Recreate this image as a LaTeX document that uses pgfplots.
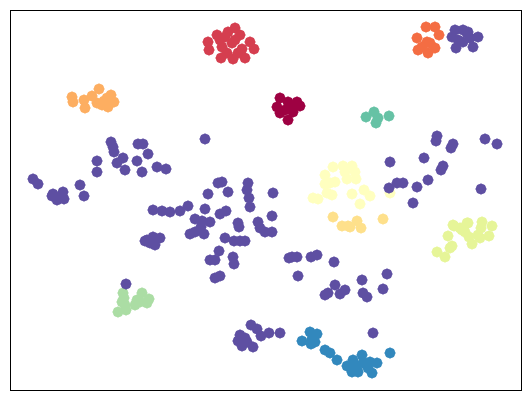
\documentclass[border=0pt]{standalone}
\usepackage{pgfplots}
\pgfplotsset{compat=1.18}

% Spectral colormap entries
\definecolor{sp1}{HTML}{9E0142}
\definecolor{sp2}{HTML}{D53E4F}
\definecolor{sp3}{HTML}{F46D43}
\definecolor{sp4}{HTML}{FDAE61}
\definecolor{sp5}{HTML}{FEE08B}
\definecolor{sp6}{HTML}{FFFFBF}
\definecolor{sp7}{HTML}{E6F598}
\definecolor{sp8}{HTML}{ABDDA4}
\definecolor{sp9}{HTML}{66C2A5}
\definecolor{sp10}{HTML}{3288BD}
\definecolor{sp11}{HTML}{5E4FA2}

\pgfplotsset{pt/.style={only marks, mark=*, mark size=5.3pt, mark options={draw=#1, fill=#1}}}

\begin{document}
\begin{tikzpicture}
\path[use as bounding box] (-10pt,-11pt) rectangle (521pt,390pt);
\begin{axis}[
    at={(0,0)}, anchor=south west,
    scale only axis,
    width=511pt, height=380pt,
    xmin=10, xmax=521, ymin=10, ymax=390,
    y dir=reverse,
    xtick=\empty, ytick=\empty,
    axis line style={black, line width=0.9pt},
]
% dark red
\addplot[pt=sp1] coordinates {
(280,98) (277,107) (288,102) (297,102) (300,106) (285,110) (288,120) (293,112) (280,113) (292,106)
};
% red
\addplot[pt=sp2] coordinates {
(208,42) (209,50) (220,40) (228,32) (235,28) (240,35) (222,47) (232,43) (235,40) (250,42)
(254,49) (242,49) (221,58) (233,59) (245,58) (227,53) (238,53) (217,35) (225,37)
};
% orange-red
\addplot[pt=sp3] coordinates {
(426,27) (435,27) (439,35) (417,38) (418,50) (427,42) (430,43) (435,48) (428,53) (422,47)
};
% orange
\addplot[pt=sp4] coordinates {
(72,97) (73,102) (84,100) (85,108) (92,96) (99,89) (97,103) (102,105) (108,107) (111,95) (114,102) (107,98) (104,101)
};
% pale yellow
\addplot[pt=sp6] coordinates {
(333,167) (343,166) (352,166) (325,175) (355,172) (347,179) (356,179) (335,182) (325,184)
(313,198) (318,199) (327,193) (332,195) (352,194) (364,190) (370,196) (360,204) (390,193) (345,172) (330,183)
};
% yellow-orange
\addplot[pt=sp5] coordinates {
(333,217) (342,226) (348,226) (357,221) (361,228) (383,219) (350,227)
};
% yellow-green
\addplot[pt=sp7] coordinates {
(437,252) (445,257) (450,248) (452,246) (448,236) (454,226) (467,223) (465,232) (469,237) (472,244)
(478,235) (482,222) (492,226) (489,236) (481,228) (460,228) (453,225) (468,223) (462,230) (480,238)
};
% light green
\addplot[pt=sp8] coordinates {
(123,293) (124,298) (122,302) (125,305) (118,312) (126,310) (137,300) (142,293) (147,303) (149,299) (140,302) (135,305)
};
% teal
\addplot[pt=sp9] coordinates {
(366,117) (374,112) (376,123) (378,118) (389,116)
};
% blue
\addplot[pt=sp10] coordinates {
(302,341) (310,332) (317,334) (311,344) (315,342) (312,339) (325,350) (330,353) (337,360) (347,366)
(353,360) (355,365) (352,372) (362,355) (363,363) (370,362) (377,363) (368,368) (372,373) (358,372) (390,353) (357,370)
};
% purple
\addplot[pt=sp11] coordinates {
(33,179) (38,184) (52,196) (53,194) (57,200) (59,197) (63,192) (64,199) (80,185) (84,196)
(97,161) (97,172) (111,142) (113,147) (114,152) (117,163) (123,158) (125,170) (137,161) (138,144)
(143,144) (148,154) (142,172) (157,167) (166,169)
(153,210) (162,211) (170,212) (180,211) (188,206)
(147,240) (153,237) (160,238) (150,243) (155,245) (145,241)
(126,284) (205,139)
(218,183) (222,182) (208,194) (228,192) (248,183) (247,190) (249,198) (250,207) (273,193) (272,216)
(205,209) (195,219) (202,221) (210,222) (220,214) (226,211) (238,223) (239,227) (258,222) (260,228)
(265,232) (272,232) (190,234) (195,232) (204,234) (201,227) (225,238) (234,241) (240,241) (245,241)
(219,251) (210,260) (215,260) (233,257) (234,264) (220,276) (215,278) (289,258)
(292,257) (297,257) (311,257) (317,255) (334,262) (298,276) (335,285) (345,290) (340,294) (325,295)
(328,293) (362,280) (363,293) (367,297) (387,274) (383,289) (373,333)
(251,325) (257,329) (261,336) (269,333) (280,333) (240,335) (238,341) (242,346) (253,347) (247,342) (245,338)
(437,136) (436,141) (453,144) (451,148) (424,158) (443,166) (441,170) (485,139) (497,144) (390,162)
(397,183) (403,183) (389,188) (417,187) (428,180) (413,203) (481,189)
(452,37) (455,30) (463,30) (468,32) (478,37) (473,47) (456,48) (463,42) (458,40) (470,38) (467,33)
};
\end{axis}
\end{tikzpicture}
\end{document}
